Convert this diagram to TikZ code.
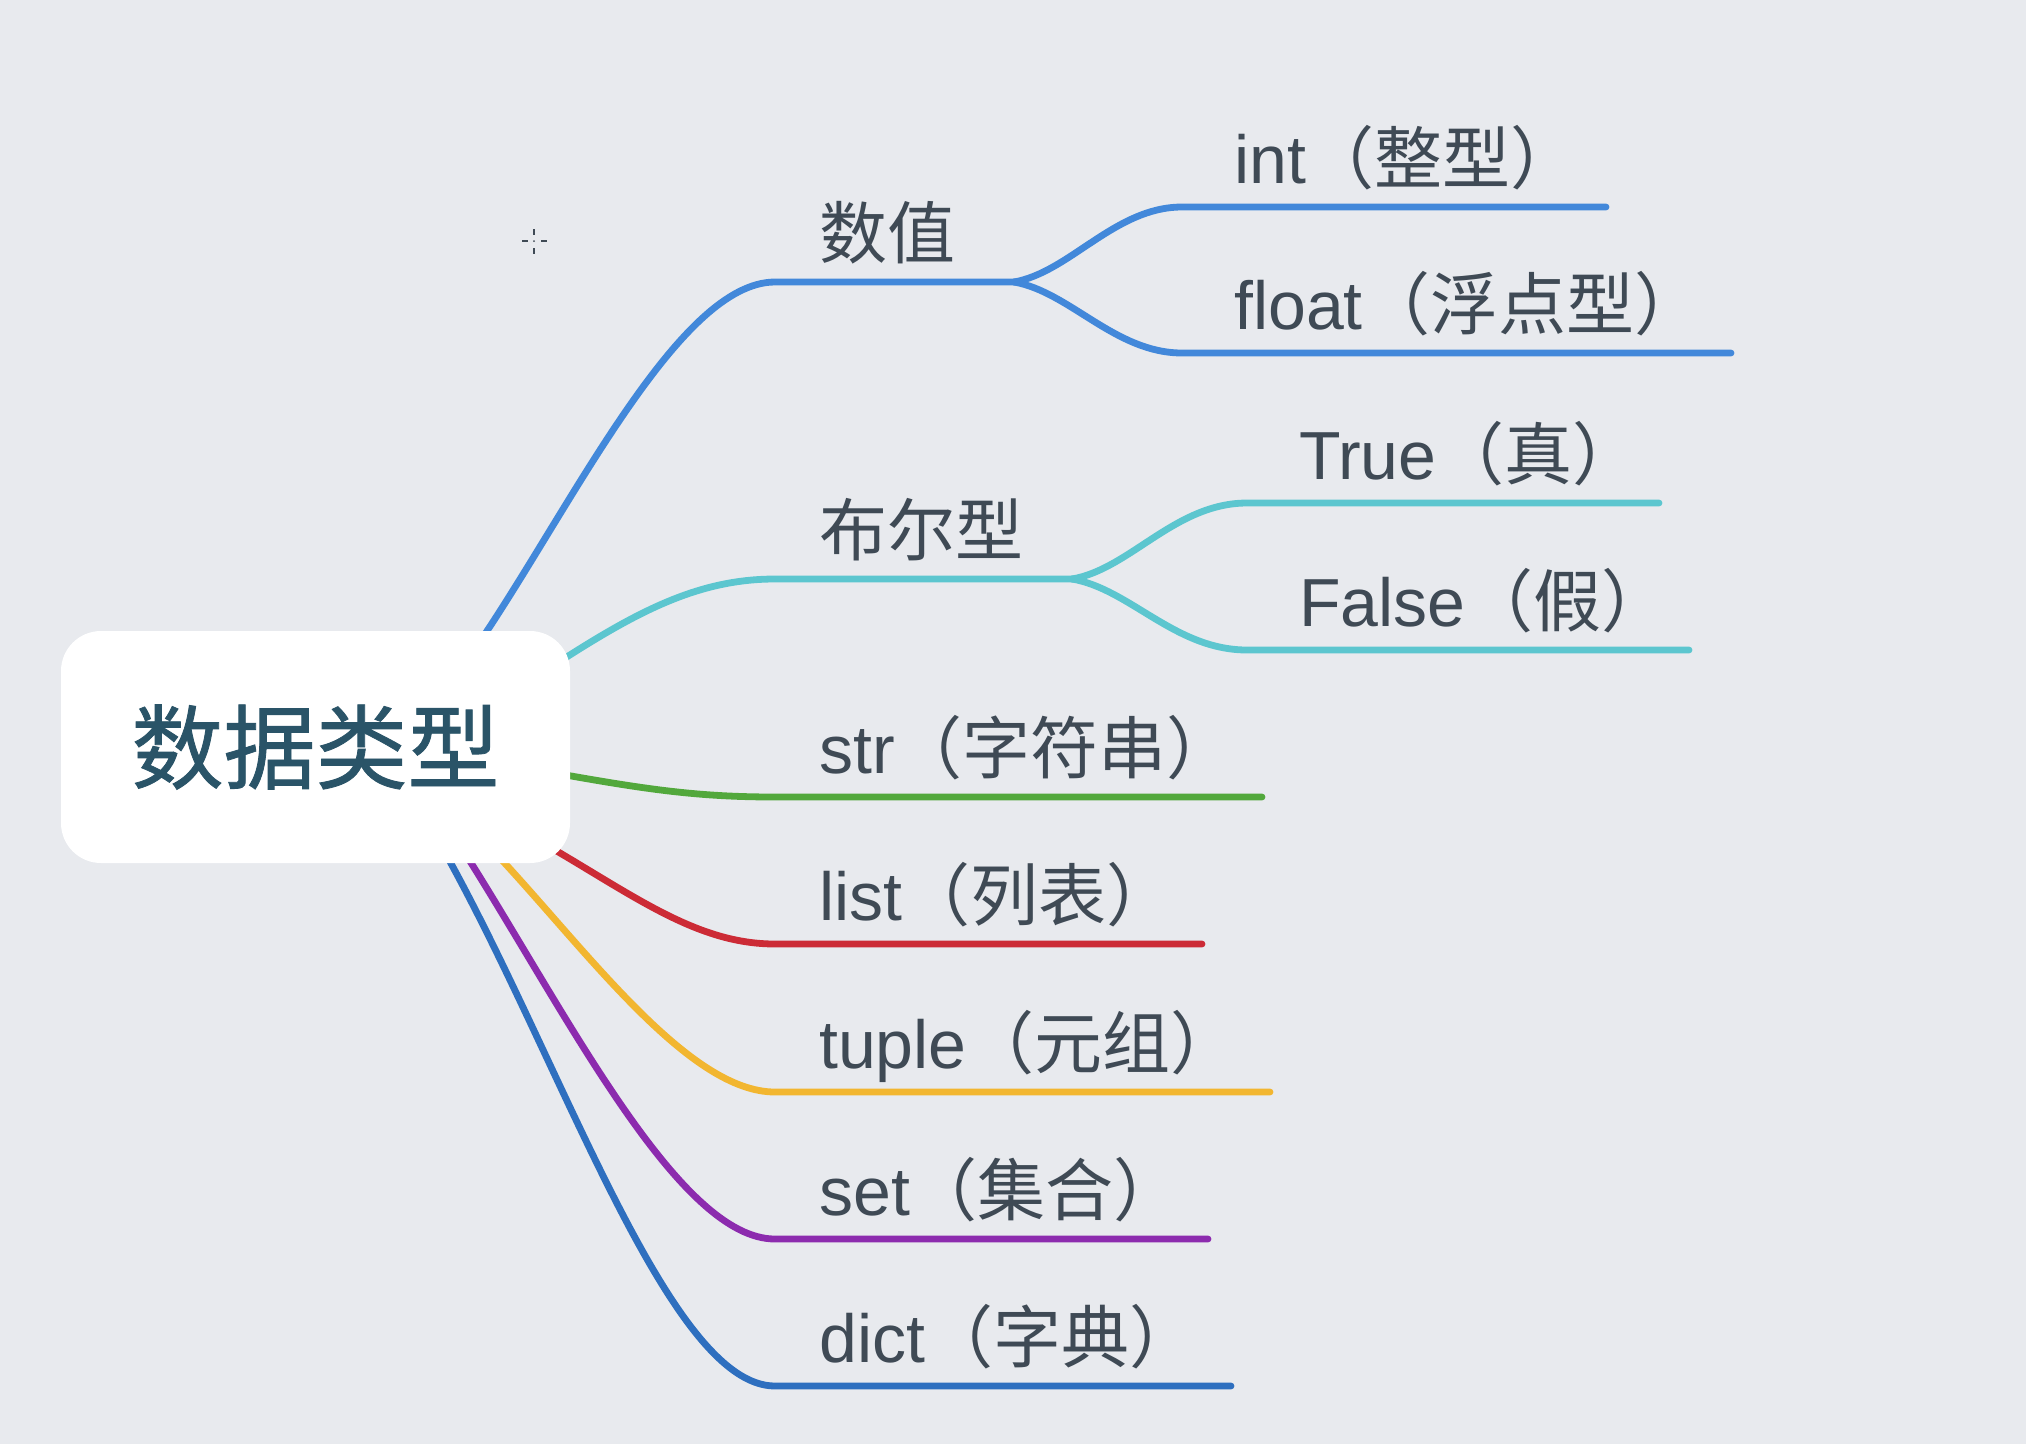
\documentclass[tikz,border=0pt]{standalone}
\usepackage{fontspec}
\setmainfont{Liberation Sans}
\newfontfamily\cjk{Noto Sans CJK SC}
\newfontfamily\cjkb[FakeBold=0.9]{Noto Sans CJK SC}
\definecolor{bg}{HTML}{E8EAEE}
\definecolor{roottxt}{HTML}{2A5468}
\definecolor{lbltxt}{HTML}{3F4A55}
\definecolor{cnum}{HTML}{4288DA}
\definecolor{cbool}{HTML}{5CC6CF}
\definecolor{cstr}{HTML}{52A83C}
\definecolor{clist}{HTML}{CC2B36}
\definecolor{ctuple}{HTML}{F2B630}
\definecolor{cset}{HTML}{8C2BAE}
\definecolor{cdict}{HTML}{2E6FBF}
\tikzset{
  br/.style={line width=6.8pt, line cap=round},
  lbl/.style={anchor=base west, inner sep=0pt, text=lbltxt, font=\fontsize{68}{80}\selectfont},
  rootbox/.style={rectangle, rounded corners=40pt, fill=white, minimum width=509pt, minimum height=232pt, inner sep=0pt, text=roottxt, font=\cjkb\fontsize{92}{100}\selectfont},
}
\begin{document}
\begin{tikzpicture}[x=1pt,y=-1pt]
\useasboundingbox[fill=bg] (0,0) rectangle (2026,1444);

% coordinates
\coordinate (r1) at (481,640);
\coordinate (a1) at (775,282);
\coordinate (f1) at (1014,282);
\coordinate (intA) at (1182,207);
\coordinate (intB) at (1606,207);
\coordinate (fltA) at (1182,353);
\coordinate (fltB) at (1731,353);

\coordinate (r2) at (562,660);
\coordinate (a2) at (775,579);
\coordinate (f2) at (1072,579);
\coordinate (truA) at (1247,503);
\coordinate (truB) at (1659,503);
\coordinate (falA) at (1247,650);
\coordinate (falB) at (1689,650);

\coordinate (r3) at (560,774);
\coordinate (a3) at (775,797);
\coordinate (e3) at (1262,797);

\coordinate (r4) at (555,850);
\coordinate (a4) at (775,944);
\coordinate (e4) at (1202,944);

\coordinate (r5) at (500,858);
\coordinate (a5) at (775,1092);
\coordinate (e5) at (1270,1092);

\coordinate (r6) at (468,858);
\coordinate (a6) at (775,1239);
\coordinate (e6) at (1208,1239);

\coordinate (r7) at (448,858);
\coordinate (a7) at (775,1386);
\coordinate (e7) at (1231,1386);

% connectors
\draw[br, cnum] (r1) .. controls (575,500) and (680,282) .. (a1) -- (f1);
\draw[br, cnum] (f1) .. controls (1070,272) and (1115,207) .. (intA) -- (intB);
\draw[br, cnum] (f1) .. controls (1070,292) and (1115,353) .. (fltA) -- (fltB);

\draw[br, cbool] (r2) .. controls (640,610) and (700,579) .. (a2) -- (f2);
\draw[br, cbool] (f2) .. controls (1130,569) and (1175,503) .. (truA) -- (truB);
\draw[br, cbool] (f2) .. controls (1130,589) and (1175,650) .. (falA) -- (falB);

\draw[br, cstr] (r3) .. controls (650,790) and (700,797) .. (a3) -- (e3);
\draw[br, clist] (r4) .. controls (640,900) and (700,944) .. (a4) -- (e4);
\draw[br, ctuple] (r5) .. controls (590,955) and (690,1092) .. (a5) -- (e5);
\draw[br, cset] (r6) .. controls (570,1020) and (680,1239) .. (a6) -- (e6);
\draw[br, cdict] (r7) .. controls (565,1070) and (670,1386) .. (a7) -- (e7);

% root
\node[rootbox] (root) at (315.5,747) {数据类型};

% labels
\node[lbl] (lnum) at (819,258) {\cjk 数值};
\node[lbl] (lint) at (1234,183) {int\cjk（整型）};
\node[lbl] (lflt) at (1234,329) {float\cjk（浮点型）};
\node[lbl] (lbool) at (819,555) {\cjk 布尔型};
\node[lbl] (ltru) at (1299,479) {True\cjk（真）};
\node[lbl] (lfal) at (1299,626) {False\cjk（假）};
\node[lbl] (lstr) at (819,773) {str\cjk（字符串）};
\node[lbl] (llist) at (819,920) {list\cjk（列表）};
\node[lbl] (ltup) at (819,1068) {tuple\cjk（元组）};
\node[lbl] (lset) at (819,1215) {set\cjk（集合）};
\node[lbl] (ldict) at (819,1362) {dict\cjk（字典）};

% cursor crosshair
\draw[line width=1.6pt, lbltxt] (534,229) -- (534,235) (534,248) -- (534,254)
  (522,241) -- (528,241) (541,241) -- (547,241);
\fill[lbltxt] (534,241) circle (1pt);
\end{tikzpicture}
\end{document}
